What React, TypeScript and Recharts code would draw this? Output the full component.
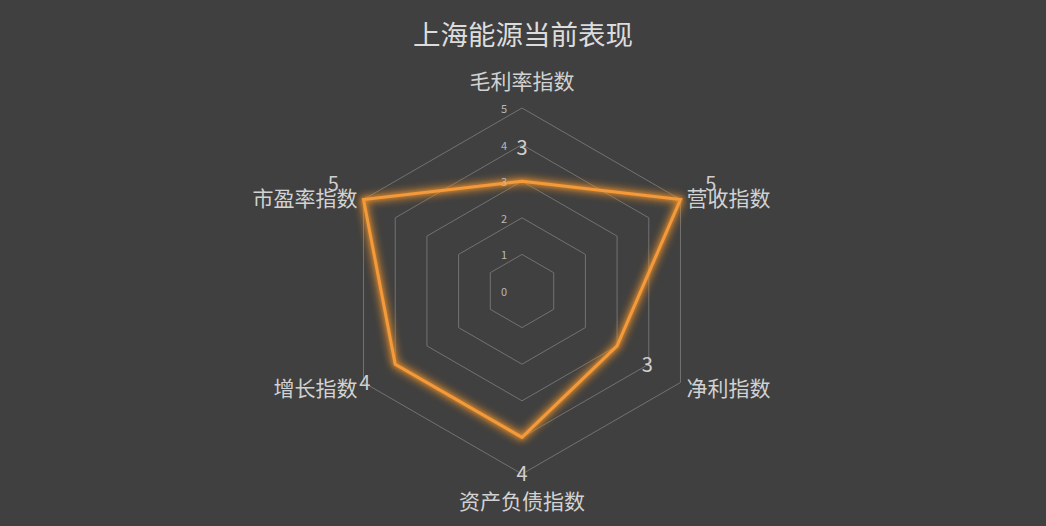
import React from "react";
import { RadarChart, Radar, PolarGrid, PolarAngleAxis, PolarRadiusAxis, LabelList } from "recharts";

const indicators = ["毛利率指数", "营收指数", "净利指数", "资产负债指数", "增长指数", "市盈率指数"];
const scores = [3, 5, 3, 4, 4, 5];
const radiusDomain = [0, 5];
const title = "上海能源当前表现";

const data = indicators.map((name, i) => ({ name, score: scores[i] }));

const W = 1046;
const H = 526;
const CX = 522;
const CY = 291;
const R = 183;
const FONT = '"Noto Sans CJK SC", "Noto Sans", sans-serif';

const unit = (x: number, y: number) => {
    const dx = x - CX;
    const dy = y - CY;
    const len = Math.sqrt(dx * dx + dy * dy) || 1;
    return { ux: dx / len, uy: dy / len };
};

const AngleTick = (props: any) => {
    const { x, y, payload } = props;
    const { ux, uy } = unit(x, y);
    const vx = CX + ux * R;
    const vy = CY + uy * R;
    let tx = vx;
    let ty = vy;
    let anchor = "middle";
    if (Math.abs(ux) < 0.1) {
        ty = vy + (uy < 0 ? -28 : 26);
    } else {
        anchor = ux > 0 ? "start" : "end";
        tx = vx + (ux > 0 ? 6 : -6);
        ty = vy + (uy < 0 ? -3 : 4);
    }
    return (
        <text x={tx} y={ty} textAnchor={anchor} dominantBaseline="central" fill="#d2d2d2" fontSize={21} fontFamily={FONT}>
            {payload.value}
        </text>
    );
};

const RadiusTick = (props: any) => {
    const { x, y, payload } = props;
    return (
        <text x={x - 18} y={y} textAnchor="middle" dominantBaseline="central" fill="#b8b8b8" fontSize={11} fontFamily={FONT}>
            {payload.value}
        </text>
    );
};

const ValueLabel = (props: any) => {
    const { x, y, value } = props;
    const { ux, uy } = unit(x, y);
    return (
        <text x={x + ux * 35} y={y + uy * 35} textAnchor="middle" dominantBaseline="central" fill="#cfcfcf" fontSize={20} fontFamily={FONT}>
            {value}
        </text>
    );
};

export default function App() {
    return (
        <div style={{ position: "fixed", left: 0, top: 0, width: W, height: H, background: "#404040" }} className="glow">
            <style>{`.glow .recharts-radar-polygon path { filter: drop-shadow(0 0 4px #d9801a) drop-shadow(0 0 2px #f09a38); }`}</style>
            <div
                style={{
                    position: "absolute",
                    top: 13,
                    left: 0,
                    width: W,
                    textAlign: "center",
                    fontFamily: FONT,
                    fontSize: 27.5,
                    lineHeight: "40px",
                    color: "#dcdcdc",
                }}
            >
                {title}
            </div>
            <RadarChart width={W} height={H} data={data} cx={CX} cy={CY} outerRadius={R} margin={{ top: 0, right: 0, bottom: 0, left: 0 }}>
                <PolarGrid gridType="polygon" radialLines={false} stroke="#727272" strokeWidth={1} />
                <PolarAngleAxis dataKey="name" tick={<AngleTick />} tickLine={false} axisLine={false} />
                <PolarRadiusAxis
                    angle={90}
                    type="number"
                    domain={radiusDomain}
                    tickCount={6}
                    tick={<RadiusTick />}
                    axisLine={false}
                    tickLine={false}
                />
                <Radar
                    dataKey="score"
                    stroke="#f59a3a"
                    strokeWidth={3}
                    fill="none"
                    fillOpacity={0}
                    dot={{ r: 3, fill: "#fbb664", stroke: "none" }}
                    isAnimationActive={false}
                >
                    <LabelList dataKey="score" content={<ValueLabel />} />
                </Radar>
            </RadarChart>
        </div>
    );
}
